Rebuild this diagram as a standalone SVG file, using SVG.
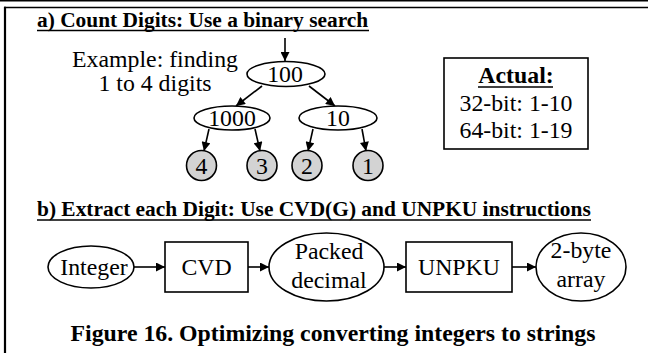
<svg xmlns="http://www.w3.org/2000/svg" width="648" height="353" viewBox="0 0 648 353">
<style>
text{font-family:"Liberation Serif","Times New Roman",serif;fill:#000}
.t{font-size:21.4px;font-weight:bold}
.r{font-size:23.8px}
.m{text-anchor:middle}
.b{font-weight:bold}
.s{fill:none;stroke:#000;stroke-width:1.6}
.n{fill:#fff;stroke:#000;stroke-width:1.6}
.g{fill:#d3d3d3;stroke:#000;stroke-width:1.6}
.e{fill:none;stroke:#000;stroke-width:1.6;marker-end:url(#ah)}
</style>
<defs>
<marker id="ah" viewBox="0 0 10 10" refX="10" refY="5" markerWidth="10" markerHeight="9" markerUnits="userSpaceOnUse" orient="auto">
<path d="M0,0L10,5L0,10z" fill="#000"/>
</marker>
</defs>
<rect width="648" height="353" fill="#fff"/>
<g id="frame">
<line x1="0" y1="0.8" x2="648" y2="0.8" stroke="#000" stroke-width="1.6"/>
<line x1="4" y1="7.5" x2="648" y2="7.5" stroke="#000" stroke-width="1.6"/>
<line x1="5" y1="6.7" x2="5" y2="353" stroke="#000" stroke-width="2.2"/>
</g>
<g id="title-a">
<text class="t" x="37" y="27">a) Count Digits: Use a binary search</text>
<line x1="37" y1="30.5" x2="369" y2="30.5" stroke="#000" stroke-width="1.4"/>
</g>
<g id="example">
<text class="r m" x="155" y="67">Example: finding</text>
<text class="r m" x="155" y="91">1 to 4 digits</text>
</g>
<g id="connectors">
<line class="e" x1="285" y1="38" x2="285" y2="61"/>
<line class="e" x1="262" y1="86" x2="236" y2="106"/>
<line class="e" x1="309" y1="86" x2="335" y2="106"/>
<line class="e" x1="209" y1="129" x2="204" y2="151"/>
<line class="e" x1="255" y1="129" x2="260" y2="151"/>
<line class="e" x1="313" y1="129" x2="308" y2="151"/>
<line class="e" x1="362" y1="129" x2="366" y2="151"/>
<line class="e" x1="134" y1="267" x2="165" y2="267"/>
<line class="e" x1="248" y1="267" x2="269" y2="267"/>
<line class="e" x1="384" y1="267" x2="406" y2="267"/>
<line class="e" x1="512" y1="267" x2="536" y2="267"/>
</g>
<g id="n100"><ellipse class="n" cx="286" cy="74" rx="39" ry="12.5"/><text class="r m" x="285" y="82">100</text></g>
<g id="n1000"><ellipse class="n" cx="232" cy="118" rx="38" ry="12"/><text class="r m" x="232" y="126">1000</text></g>
<g id="n10"><ellipse class="n" cx="338" cy="118" rx="39" ry="12"/><text class="r m" x="338" y="126">10</text></g>
<g id="c4"><circle class="g" cx="201.5" cy="165.5" r="15"/><text class="r m" x="201.5" y="174">4</text></g>
<g id="c3"><circle class="g" cx="262" cy="165.5" r="15"/><text class="r m" x="262" y="174">3</text></g>
<g id="c2"><circle class="g" cx="307" cy="165.5" r="15"/><text class="r m" x="307" y="174">2</text></g>
<g id="c1"><circle class="g" cx="368" cy="165.5" r="15"/><text class="r m" x="368" y="174">1</text></g>
<g id="actual">
<rect class="s" x="444" y="58" width="144" height="91"/>
<text class="r m b" x="516" y="83">Actual:</text>
<line x1="478" y1="87" x2="553" y2="87" stroke="#000" stroke-width="1.4"/>
<text class="r m" x="516" y="111">32-bit: 1-10</text>
<text class="r m" x="516" y="138">64-bit: 1-19</text>
</g>
<g id="title-b">
<text class="t" x="37" y="216">b) Extract each Digit: Use CVD(G) and UNPKU instructions</text>
<line x1="37" y1="220" x2="591" y2="220" stroke="#000" stroke-width="1.4"/>
</g>
<g id="integer"><ellipse class="n" cx="91" cy="267" rx="43" ry="21"/><text class="r m" x="94" y="275">Integer</text></g>
<g id="cvd"><rect class="n" x="165" y="242" width="83" height="50"/><text class="r m" x="206.5" y="275">CVD</text></g>
<g id="packed"><ellipse class="n" cx="326.5" cy="267" rx="57.5" ry="34"/><text class="r m" x="329" y="259">Packed</text><text class="r m" x="329" y="288">decimal</text></g>
<g id="unpku"><rect class="n" x="406" y="242" width="106" height="50"/><text class="r m" x="459" y="275">UNPKU</text></g>
<g id="bytes"><ellipse class="n" cx="581" cy="267" rx="45" ry="34"/><text class="r m" x="581" y="258">2-byte</text><text class="r m" x="581" y="287">array</text></g>
<g id="caption">
<text class="r m b" x="333" y="341">Figure 16. Optimizing converting integers to strings</text>
</g>
</svg>
